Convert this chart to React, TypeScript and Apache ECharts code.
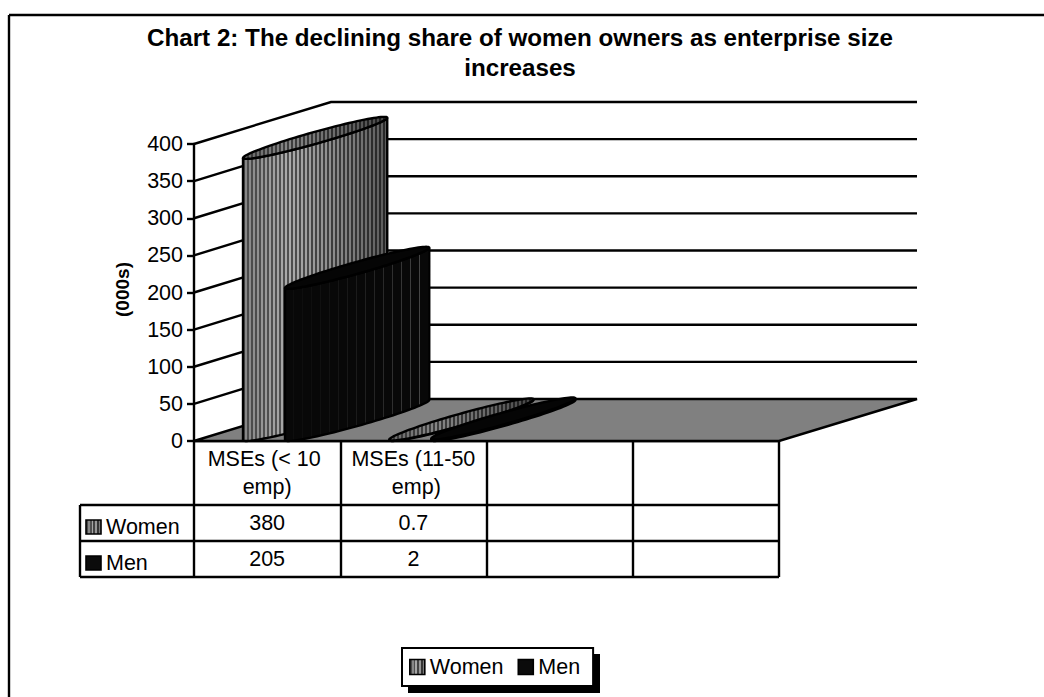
import React, { useEffect, useRef } from "react";
import * as echarts from "echarts";

const titleLines = ["Chart 2: The declining share of women owners as enterprise size", "increases"];
const categories = ["MSEs (< 10 emp)", "MSEs (11-50 emp)", "", ""];
const women: (number | null)[] = [380, 0.7, null, null];
const men: (number | null)[] = [205, 2, null, null];
const wallTicks = [50, 100, 150, 200, 250, 300, 350, 400];
const yAxisName = "(000s)";

const FONT = "Liberation Sans, Arial, sans-serif";
const G = { left: 194, top: 144, width: 585, height: 297 };
const DEPTH_X = 138;
const DEPTH_Y = 42;
const BAR_SHARE = 42 / 146.25;
const LW = 2.4;

function lerp(points: number[][], u: number) {
  for (let i = 1; i < points.length; i++) {
    if (u <= points[i][0]) {
      const a = points[i - 1];
      const b = points[i];
      return a[1] + ((b[1] - a[1]) * (u - a[0])) / (b[0] - a[0]);
    }
  }
  return points[points.length - 1][1];
}
const grey = (v: number) => {
  const c = Math.max(0, Math.min(255, Math.round(v)));
  return `rgb(${c},${c},${c})`;
};

function womenFill(n: number, k: number) {
  const light = [[0, 135], [0.3, 172], [0.65, 135], [1, 88]];
  const dark = [[0, 75], [0.3, 80], [0.65, 58], [1, 38]];
  const stops: { offset: number; color: string }[] = [];
  for (let i = 0; i < n; i++) {
    const a = i / n;
    const m = (i + 0.5) / n;
    const b = (i + 1) / n;
    const d = grey(lerp(dark, a) * k);
    const l = grey(lerp(light, a) * k);
    stops.push({ offset: a, color: d }, { offset: m, color: d }, { offset: m, color: l }, { offset: b, color: l });
  }
  return new echarts.graphic.LinearGradient(0, 0, 1, 0, stops);
}

function menFill(n: number) {
  const stops: { offset: number; color: string }[] = [];
  for (let i = 0; i < n; i++) {
    const a = i / n;
    const m = (i + 0.85) / n;
    const b = (i + 1) / n;
    const base = "#080808";
    const l = grey(14 + 70 * a * a);
    stops.push({ offset: a, color: base }, { offset: m, color: base }, { offset: m, color: l }, { offset: b, color: l });
  }
  return new echarts.graphic.LinearGradient(0, 0, 1, 0, stops);
}

function cylinderSeries(name: string, values: (number | null)[], side: number, body: any, cap: any, z: number) {
  return {
    type: "custom",
    name,
    clip: false,
    silent: true,
    z,
    encode: { x: 0, y: 1 },
    data: values.map((v, i) => [i, v]).filter((d) => d[1] !== null),
    renderItem: (_p: any, api: any) => {
      const cat = api.value(0);
      const top = api.coord([cat, api.value(1)]);
      const base = api.coord([cat, 0]);
      const w = api.size([1, 0])[0] * BAR_SHARE;
      const rx = w / 2;
      const dx = DEPTH_X / 2;
      const dy = DEPTH_Y / 2;
      const uc = top[0] + (side * w) / 2;
      const t0 = Math.atan2(dx, rx);
      const pt = (t: number, y: number) => [uc + dx + rx * Math.cos(t) + dx * Math.sin(t), y - dy - dy * Math.sin(t)];
      const N = 48;
      const arc = (y: number) => {
        const out: number[][] = [];
        for (let i = 0; i <= N; i++) out.push(pt(t0 + Math.PI + (Math.PI * i) / N, y));
        return out;
      };
      const ring: number[][] = [];
      for (let i = 0; i < N * 2; i++) ring.push(pt((Math.PI * i) / N, top[1]));
      return {
        type: "group",
        children: [
          {
            type: "polygon",
            shape: { points: [...arc(top[1]), ...arc(base[1]).reverse()] },
            style: { fill: body, stroke: "#000", lineWidth: LW },
          },
          {
            type: "polygon",
            shape: { points: ring },
            style: { fill: cap, stroke: "#000", lineWidth: LW },
          },
        ],
      };
    },
  };
}

const line = (x1: number, y1: number, x2: number, y2: number, lineWidth = LW) => ({
  type: "line",
  shape: { x1, y1, x2, y2 },
  style: { stroke: "#000", lineWidth },
  silent: true,
});
const label = (text: string, x: number, y: number, align = "center") => ({
  type: "text",
  x,
  y,
  silent: true,
  style: { text, x: 0, y: 0, align, verticalAlign: "middle", fontFamily: FONT, fontSize: 21.5, fill: "#000" },
});

export default function App() {
  const ref = useRef<HTMLDivElement>(null);
  useEffect(() => {
    document.body.style.margin = "0";
    const chart = echarts.init(ref.current!, undefined, { renderer: "svg" });
    const catW = G.width / categories.length;
    const womenBody = womenFill(36, 1);
    const womenCap = womenFill(36, 0.78);
    const menBody = menFill(16);
    const row1 = 505;
    const row2 = 541;
    const row3 = 577;
    const tableRows = [
      { name: "Women", values: women, keyFill: womenFill(4, 1), y: row1 },
      { name: "Men", values: men, keyFill: "#0b0b0b", y: row2 },
    ];
    const graphicElements: any[] = [
      line(9, 15, 1044, 15),
      line(9, 15, 9, 697),
      line(80, row1, G.left + G.width, row1),
      line(80, row2, G.left + G.width, row2),
      line(80, row3, G.left + G.width, row3),
      line(80, row1, 80, row3),
      { type: "rect", shape: { x: 408, y: 654, width: 192, height: 39 }, style: { fill: "#000" }, silent: true },
    ];
    tableRows.forEach((r) => {
      graphicElements.push({
        type: "rect",
        shape: { x: 86, y: r.y + 15, width: 15, height: 14 },
        style: { fill: r.keyFill, stroke: "#000", lineWidth: 1.6 },
        silent: true,
      });
      graphicElements.push(label(r.name, 106, r.y + 22, "left"));
      r.values.forEach((v, i) => {
        if (v !== null) graphicElements.push(label(String(v), G.left + (i + 0.5) * catW, r.y + 18));
      });
    });

    chart.setOption({
      animation: false,
      backgroundColor: "#fff",
      title: {
        text: titleLines.join("\n"),
        left: 515,
        top: 17,
        textAlign: "center",
        textStyle: { fontFamily: FONT, fontSize: 24.2, fontWeight: "bold", color: "#000", lineHeight: 30 },
      },
      grid: { left: G.left, top: G.top, width: G.width, height: G.height, containLabel: false },
      xAxis: {
        type: "category",
        data: categories,
        axisLine: { lineStyle: { color: "#000", width: LW } },
        axisTick: { show: true, length: 136, lineStyle: { color: "#000", width: LW } },
        axisLabel: {
          interval: 0,
          margin: 4,
          color: "#000",
          fontFamily: FONT,
          fontSize: 21.5,
          lineHeight: 28,
          width: 130,
          overflow: "break",
        },
      },
      yAxis: {
        type: "value",
        min: 0,
        max: 400,
        interval: 50,
        name: yAxisName,
        nameLocation: "middle",
        nameRotate: 90,
        nameGap: 62,
        nameTextStyle: { fontFamily: FONT, fontSize: 19, fontWeight: "bold", color: "#000", padding: [0, 0, 0, 6] },
        axisLine: { show: true, lineStyle: { color: "#000", width: LW } },
        axisTick: { show: true, length: 7, lineStyle: { color: "#000", width: LW } },
        axisLabel: { margin: 11, color: "#000", fontFamily: FONT, fontSize: 21.5 },
        splitLine: { show: false },
      },
      legend: {
        left: 402,
        top: 648,
        data: [
          { name: "Women", icon: "rect", itemStyle: { color: womenFill(4, 1), borderColor: "#000", borderWidth: 1.6 } },
          { name: "Men", icon: "rect", itemStyle: { color: "#0b0b0b", borderColor: "#000", borderWidth: 1.6 } },
        ],
        itemWidth: 15,
        itemHeight: 15,
        itemGap: 14,
        padding: [8, 13, 8, 7],
        backgroundColor: "#fff",
        borderColor: "#000",
        borderWidth: 2,
        borderRadius: 0,
        selectedMode: false,
        textStyle: { fontFamily: FONT, fontSize: 21.5, color: "#000" },
      },
      tooltip: { show: false },
      graphic: { elements: graphicElements },
      series: [
        {
          type: "custom",
          name: "wall",
          clip: false,
          silent: true,
          z: 1,
          encode: { x: 0, y: 1 },
          data: wallTicks.map((v) => [0, v]),
          renderItem: (params: any, api: any) => {
            const y = api.coord([0, api.value(1)])[1];
            const left = params.coordSys.x;
            const right = left + params.coordSys.width;
            return {
              type: "polyline",
              shape: {
                points: [
                  [left, y],
                  [left + DEPTH_X - 1, y - DEPTH_Y],
                  [right + DEPTH_X, y - DEPTH_Y],
                ],
              },
              style: { fill: "none", stroke: "#000", lineWidth: LW },
            };
          },
        },
        {
          type: "custom",
          name: "floor",
          clip: false,
          silent: true,
          z: 1,
          encode: { x: 0, y: 1 },
          data: [[0, 0]],
          renderItem: (params: any, api: any) => {
            const y = api.coord([0, 0])[1];
            const left = params.coordSys.x;
            const right = left + params.coordSys.width;
            return {
              type: "polygon",
              shape: {
                points: [
                  [left, y],
                  [left + DEPTH_X - 1, y - DEPTH_Y],
                  [right + DEPTH_X, y - DEPTH_Y],
                  [right, y],
                ],
              },
              style: { fill: "#808080", stroke: "#000", lineWidth: LW },
            };
          },
        },
        cylinderSeries("Women", women, -1, womenBody, womenCap, 2),
        cylinderSeries("Men", men, 1, menBody, "#050505", 2),
      ],
    });
    return () => chart.dispose();
  }, []);
  return <div ref={ref} style={{ position: "absolute", left: 0, top: 0, width: 1044, height: 697 }} />;
}
